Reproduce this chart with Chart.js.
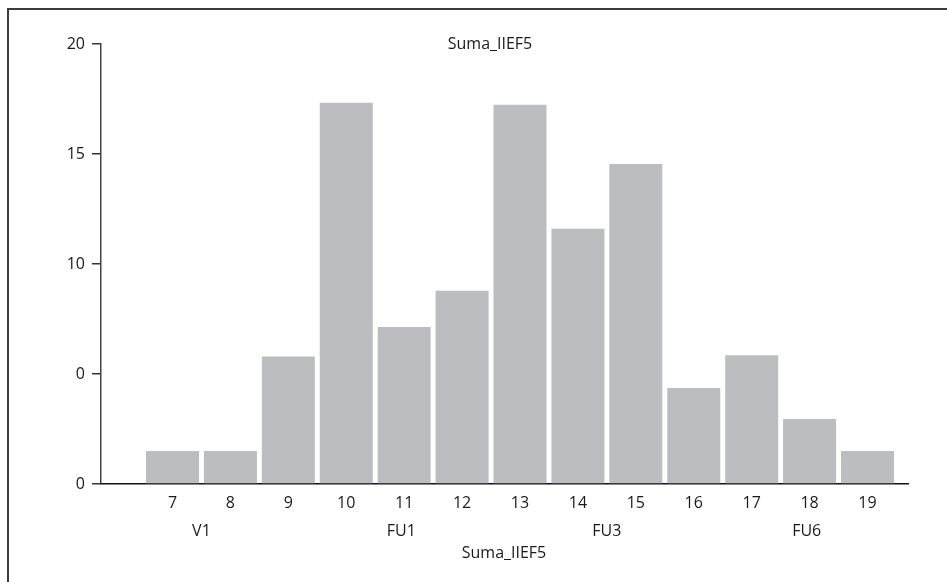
<!DOCTYPE html>
<html>
<head>
<meta charset="utf-8">
<script src="https://cdn.jsdelivr.net/npm/chart.js@4"></script>
<style>
  html, body { margin: 0; padding: 0; background: #fff; }
  #wrap { width: 947px; height: 582px; }
</style>
</head>
<body>
<div id="wrap"><canvas id="chart"></canvas></div>
<script>
// data
const xValues = [7, 8, 9, 10, 11, 12, 13, 14, 15, 16, 17, 18, 19];
const counts = [1.5, 1.5, 5.8, 17.33, 7.14, 8.78, 17.24, 11.6, 14.55, 4.36, 5.85, 2.95, 1.5];
const yTicks = [0, 5, 10, 15, 20];
const yTickLabels = ['0', '0', '10', '15', '20'];
const groupNames = ['V1', 'FU1', 'FU3', 'FU6'];
const groupAt = [7.5, 10.95, 14.5, 17.95];
const titleText = 'Suma_IIEF5';
const axisTitle = 'Suma_IIEF5';

const FONT = '"Open Sans", "Noto Sans", sans-serif';
const INK = '#1a1a1a';

// frame + title + group labels
const extras = {
    id: 'extras',
    beforeDraw(chart) {
        const c = chart.ctx;
        c.save();
        c.strokeStyle = '#3c3c3c';
        c.lineWidth = 2;
        c.beginPath();
        c.moveTo(8, 582);
        c.lineTo(8, 9);
        c.lineTo(947, 9);
        c.stroke();
        c.restore();
    },
    afterDraw(chart) {
        const c = chart.ctx;
        const x = chart.scales.x;
        c.save();
        c.fillStyle = INK;
        c.font = '16px ' + FONT;
        c.textAlign = 'center';
        c.textBaseline = 'middle';
        c.fillText(titleText, 490, 44);
        groupNames.forEach((g, i) => {
            c.fillText(g, x.getPixelForValue(groupAt[i]), 531);
        });
        c.fillText(axisTitle, 504, 553);
        c.restore();
    }
};

new Chart(document.getElementById('chart'), {
    type: 'bar',
    data: {
        datasets: [{
            data: xValues.map((v, i) => ({ x: v, y: counts[i] })),
            backgroundColor: '#bcbdc1',
            borderWidth: 0,
            barPercentage: 1,
            categoryPercentage: 0.915
        }]
    },
    options: {
        responsive: true,
        maintainAspectRatio: false,
        animation: false,
        layout: { padding: { top: 44, right: 39, left: 0, bottom: 0 } },
        plugins: { legend: { display: false }, tooltip: { enabled: false } },
        scales: {
            x: {
                type: 'linear',
                offset: false,
                min: 5.7655,
                max: 19.699,
                afterBuildTicks: s => { s.ticks = xValues.map(v => ({ value: v })); },
                afterFit: s => { s.height = 98; },
                grid: { display: false, drawTicks: false, offset: false },
                border: { display: true, color: '#111', width: 1.5 },
                ticks: {
                    color: INK,
                    font: { family: FONT, size: 16 },
                    padding: 10,
                    maxRotation: 0,
                    autoSkip: false,
                    callback: v => String(v)
                }
            },
            y: {
                min: 0,
                max: 20,
                afterBuildTicks: s => { s.ticks = yTicks.map(v => ({ value: v })); },
                afterFit: s => { s.width = 101; },
                grid: { drawOnChartArea: false, drawTicks: true, tickLength: 9, color: '#333', lineWidth: 1.5 },
                border: { display: true, color: '#444', width: 1.5 },
                ticks: {
                    color: INK,
                    font: { family: FONT, size: 16 },
                    padding: 7,
                    callback: (v) => yTickLabels[yTicks.indexOf(v)]
                }
            }
        }
    },
    plugins: [extras]
});
</script>
</body>
</html>
